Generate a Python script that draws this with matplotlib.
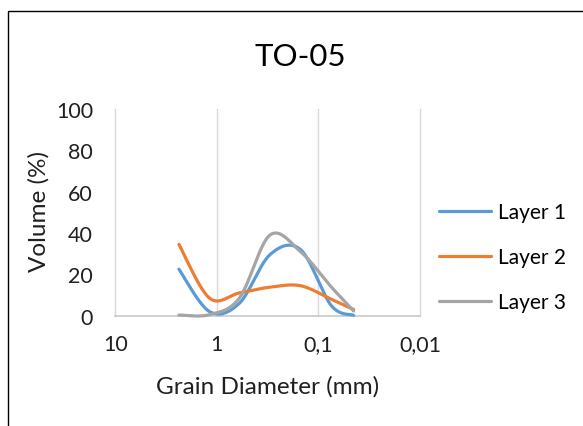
import numpy as np
import matplotlib
matplotlib.use('Agg')
import matplotlib.pyplot as plt
from matplotlib.patches import Rectangle

# Sieve sizes (mm) and volume (%) per layer
sizes = [2.36, 1.18, 0.6, 0.3, 0.15, 0.075, 0.045]
layer1 = [22.5, 2.0, 6.0, 29.5, 32.0, 5.0, 0.2]
layer2 = [34.5, 8.5, 11.0, 13.8, 14.5, 8.0, 3.0]
layer3 = [0.3, 0.5, 8.5, 39.0, 31.0, 14.0, 2.3]
labels = ['Layer 1', 'Layer 2', 'Layer 3']
colors = ['#5B9BD5', '#ED7D31', '#A5A5A5']

xticks = [10, 1, 0.1, 0.01]
xticklabels = ['10', '1', '0,1', '0,01']
yticks = [0, 20, 40, 60, 80, 100]


def smooth(xs, ys, n=40):
    # Excel-style smoothed line: cubic Bezier through the points
    p = np.column_stack([np.log10(xs), ys])
    out = []
    for i in range(len(p) - 1):
        p0 = p[i - 1] if i > 0 else p[i]
        p1, p2 = p[i], p[i + 1]
        p3 = p[i + 2] if i + 2 < len(p) else p[i + 1]
        c1 = p1 + (p2 - p0) / 6
        c2 = p2 - (p3 - p1) / 6
        t = np.linspace(0, 1, n)[:, None]
        seg = ((1 - t) ** 3 * p1 + 3 * (1 - t) ** 2 * t * c1
               + 3 * (1 - t) * t ** 2 * c2 + t ** 3 * p2)
        out.append(seg if i == 0 else seg[1:])
    out = np.vstack(out)
    return 10 ** out[:, 0], out[:, 1]


plt.rcParams['font.family'] = ['Lato', 'DejaVu Sans']
W, H = 583, 427
fig = plt.figure(figsize=(W / 100, H / 100), dpi=100)

fig.patches.append(Rectangle((8 / W, -0.1), 2, 1.1 - 12 / H,
                             transform=fig.transFigure, fill=False,
                             edgecolor='black', linewidth=1.0))

ax = fig.add_axes([115.2 / W, (H - 316.7) / H, (420 - 115.2) / W,
                   (316.7 - 110) / H])

for ys, lab, col in zip([layer1, layer2, layer3], labels, colors):
    sx, sy = smooth(sizes, ys)
    ax.plot(sx, sy, color=col, linewidth=2.3, label=lab,
            solid_capstyle='round', clip_on=False, zorder=3)

ax.set_xscale('log')
ax.set_xlim(10, 0.01)
ax.set_ylim(0, 100)
ax.set_xticks(xticks)
ax.set_xticklabels(xticklabels)
ax.minorticks_off()
ax.set_yticks(yticks)
ax.tick_params(length=0, labelsize=15.5, colors='#202020')
ax.tick_params(axis='x', pad=13)
ax.tick_params(axis='y', pad=16)

for s in ['top', 'right', 'left']:
    ax.spines[s].set_visible(False)
ax.spines['bottom'].set_color('#C8C8C8')
ax.spines['bottom'].set_linewidth(1.2)
for xv in xticks:
    ax.axvline(xv, color='#D9D9D9', linewidth=1.0, zorder=1, clip_on=False)

fig.text(300 / W, 1 - 56.7 / H, 'TO-05', ha='center', va='center',
         fontsize=22.5, color='#000000')
fig.text(267.5 / W, 1 - 387 / H, 'Grain Diameter (mm)', ha='center',
         va='center', fontsize=17.5, color='#202020')
fig.text(39 / W, 1 - 212 / H, 'Volume (%)', ha='center', va='center',
         rotation=90, fontsize=17.5, color='#202020')

fig.legend(loc='center left', bbox_to_anchor=(429 / W, 1 - 258 / H),
           frameon=False, fontsize=15, handlelength=2.5,
           handletextpad=0.3, labelspacing=1.2, borderpad=0)

fig.savefig('out.png', dpi=100)
